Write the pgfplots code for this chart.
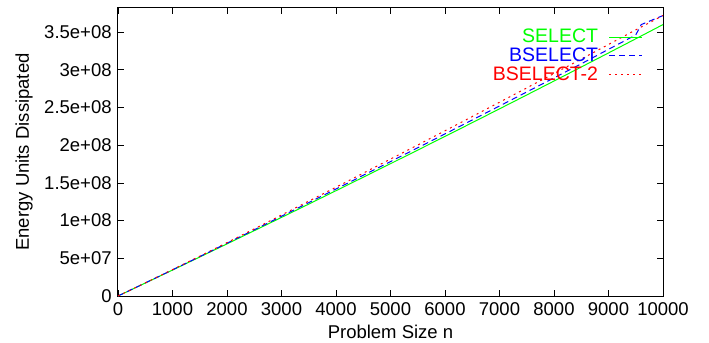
\documentclass[border=0pt]{standalone}
\usepackage{fontspec}
\setmainfont{Liberation Sans}
\usepackage{pgfplots}
\pgfplotsset{compat=1.18}
\definecolor{gpgreen}{RGB}{0,255,0}
\definecolor{gpblue}{RGB}{0,0,255}
\definecolor{gpred}{RGB}{255,0,0}
\begin{document}
\fontsize{18.5bp}{20bp}\selectfont
\begin{tikzpicture}
\path[use as bounding box] (-118bp,-47bp) rectangle (591bp,296bp);
\begin{axis}[
  at={(0,0)}, anchor=south west,
  scale only axis, width=545bp, height=288bp,
  xmin=0, xmax=10000, ymin=0, ymax=3.82e8,
  xtick={0,1000,...,10000},
  xticklabels={0,1000,2000,3000,4000,5000,6000,7000,8000,9000,10000},
  scaled x ticks=false,
  ytick={0,5e7,1e8,1.5e8,2e8,2.5e8,3e8,3.5e8},
  yticklabels={0,5e+07,1e+08,1.5e+08,2e+08,2.5e+08,3e+08,3.5e+08},
  scaled y ticks=false,
  tick align=inside, major tick length=6bp,
  every tick/.style={black, line width=0.8bp},
  axis line style={line width=1bp},
  tick label style={font=\fontsize{18.5bp}{20bp}\selectfont},
  label style={font=\fontsize{18.5bp}{20bp}\selectfont},
  xlabel={Problem Size n},
  ylabel={Energy Units Dissipated},
  xlabel style={yshift=3bp},
  ylabel style={yshift=-1bp},
  legend plot pos=right,
  legend cell align=right,
  legend style={at={(0.963,0.93)}, anchor=north east, draw=none, fill=none,
    inner sep=0pt, row sep=1.5bp, column sep=10bp,
    font=\fontsize{19.5bp}{20bp}\selectfont,
    nodes={inner sep=0.5bp}},
  legend image code/.code={\draw[#1, line width=1.1bp] (0bp,0bp) -- (33bp,0bp);},
]
\addplot[color=gpgreen, line width=1bp] coordinates {
(0,0) (500,1.715e7) (1000,3.438e7) (1500,5.171e7) (2000,6.912e7) (2500,8.663e7)
(3000,1.0422e8) (3500,1.2191e8) (4000,1.3968e8) (4500,1.5755e8) (5000,1.755e8)
(5500,1.9355e8) (6000,2.1168e8) (6500,2.2991e8) (7000,2.4822e8) (7500,2.6663e8)
(8000,2.8512e8) (8500,3.0371e8) (9000,3.2238e8) (9500,3.4115e8) (10000,3.6e8)
};
\addlegendentry{\textcolor{gpgreen}{SELECT}}
\addplot[color=gpblue, line width=1bp, dash pattern=on 6bp off 4bp] coordinates {
(0,0) (500,1.73e7) (1000,3.47e7) (1500,5.22e7) (2000,7.0e7) (2500,8.78e7)
(3000,1.0575e8) (3500,1.238e8) (4000,1.419e8) (4500,1.601e8) (5000,1.783e8)
(5500,1.966e8) (6000,2.150e8) (6500,2.335e8) (7000,2.52e8) (7500,2.706e8)
(8000,2.893e8) (8500,3.08e8) (9000,3.272e8) (9500,3.462e8) (9600,3.6e8) (10000,3.72e8)
};
\addlegendentry{\textcolor{gpblue}{BSELECT}}
\addplot[color=gpred, line width=1bp, dash pattern=on 2bp off 4bp] coordinates {
(0,0) (500,1.74e7) (1000,3.5e7) (1500,5.28e7) (2000,7.08e7) (2500,8.9e7)
(3000,1.074e8) (3500,1.258e8) (4000,1.443e8) (4500,1.629e8) (5000,1.816e8)
(5500,2.003e8) (6000,2.191e8) (6500,2.38e8) (7000,2.57e8) (7500,2.76e8)
(8000,2.951e8) (8500,3.143e8) (9000,3.336e8) (9500,3.53e8) (10000,3.72e8)
};
\addlegendentry{\textcolor{gpred}{BSELECT-2}}
\end{axis}
\end{tikzpicture}
\end{document}
